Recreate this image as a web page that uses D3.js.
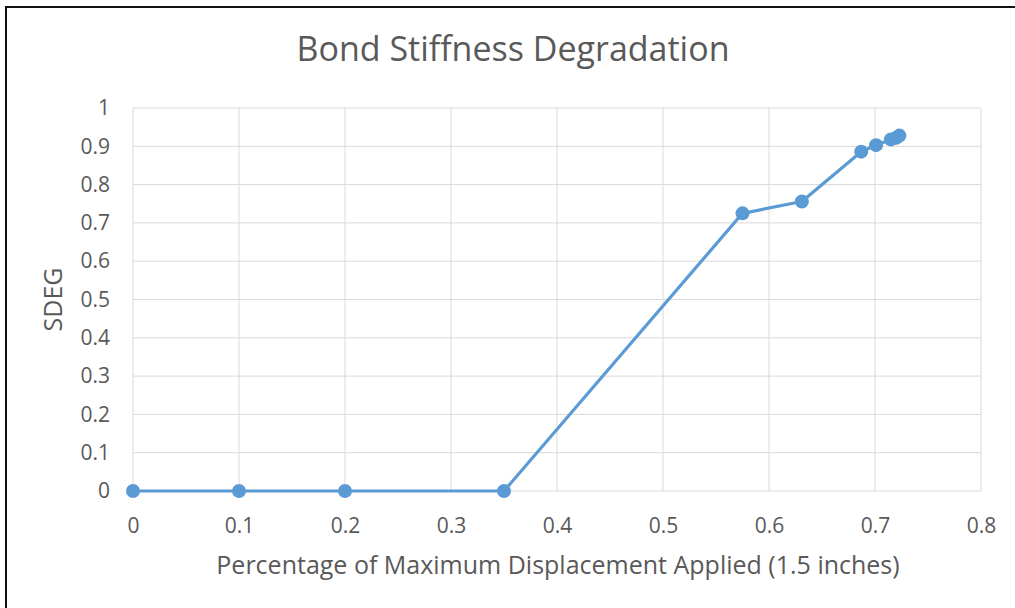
<!DOCTYPE html>
<html>
<head>
<meta charset="utf-8">
<script src="https://cdn.jsdelivr.net/npm/d3@7/dist/d3.min.js"></script>
<style>
  body { margin: 0; background: #fff; }
  svg text { font-family: "Open Sans", "DejaVu Sans", sans-serif; fill: #595959; }
</style>
</head>
<body>
<script>
const width = 1015
const height = 608

// values
const displacement = [0, 0.1, 0.2, 0.35, 0.575, 0.631, 0.687, 0.701, 0.715, 0.720, 0.723]
const sdeg = [0, 0, 0, 0, 0.725, 0.756, 0.886, 0.903, 0.918, 0.922, 0.928]
const xTicks = [0, 0.1, 0.2, 0.3, 0.4, 0.5, 0.6, 0.7, 0.8]
const yTicks = [0, 0.1, 0.2, 0.3, 0.4, 0.5, 0.6, 0.7, 0.8, 0.9, 1]

const points = displacement.map((d, i) => ({x: d, y: sdeg[i]}))

const margin = {left: 133, right: 34, top: 108, bottom: 117}

const x = d3.scaleLinear().domain([0, 0.8]).range([margin.left, width - margin.right])
const y = d3.scaleLinear().domain([0, 1]).range([height - margin.bottom, margin.top])

const svg = d3.select('body').append('svg')
    .attr('width', width)
    .attr('height', height)

// frame (only left and top edges visible in the reference)
svg.append('rect')
    .attr('x', 6).attr('y', 7)
    .attr('width', width + 20).attr('height', height + 20)
    .attr('fill', 'none')
    .attr('stroke', '#111')
    .attr('stroke-width', 2)

// gridlines
svg.append('g')
    .selectAll('line.h')
    .data(yTicks)
    .enter().append('line')
    .attr('x1', x(0)).attr('x2', x(0.8))
    .attr('y1', d => y(d)).attr('y2', d => y(d))
    .attr('stroke', '#d9d9d9')
    .attr('stroke-width', 1)

svg.append('g')
    .selectAll('line.v')
    .data(xTicks)
    .enter().append('line')
    .attr('x1', d => x(d)).attr('x2', d => x(d))
    .attr('y1', y(0)).attr('y2', y(1))
    .attr('stroke', '#d9d9d9')
    .attr('stroke-width', 1)

// axes (labels only)
const xAxis = svg.append('g')
    .attr('transform', `translate(0,${y(0)})`)
    .call(d3.axisBottom(x).tickValues(xTicks).tickSize(0).tickPadding(27).tickFormat(d3.format('')))
xAxis.select('.domain').remove()
xAxis.selectAll('text').style('font-size', '21px').attr('fill', '#595959')

const yAxis = svg.append('g')
    .attr('transform', `translate(${x(0)},0)`)
    .call(d3.axisLeft(y).tickValues(yTicks).tickSize(0).tickPadding(23).tickFormat(d3.format('')))
yAxis.select('.domain').remove()
yAxis.selectAll('text').style('font-size', '21px').attr('fill', '#595959')

// series
const line = d3.line().x(d => x(d.x)).y(d => y(d.y))

svg.append('path')
    .datum(points)
    .attr('d', line)
    .attr('fill', 'none')
    .attr('stroke', '#5b9bd5')
    .attr('stroke-width', 3.2)
    .attr('stroke-linejoin', 'round')

svg.append('g')
    .selectAll('circle')
    .data(points)
    .enter().append('circle')
    .attr('cx', d => x(d.x))
    .attr('cy', d => y(d.y))
    .attr('r', 7)
    .attr('fill', '#5b9bd5')

// titles
svg.append('text')
    .attr('x', 513).attr('y', 61)
    .attr('text-anchor', 'middle')
    .style('font-size', '34px')
    .text('Bond Stiffness Degradation')

svg.append('text')
    .attr('x', 558).attr('y', 574)
    .attr('text-anchor', 'middle')
    .style('font-size', '25px')
    .text('Percentage of Maximum Displacement Applied (1.5 inches)')

svg.append('text')
    .attr('transform', `translate(62,${(y(0) + y(1)) / 2}) rotate(-90)`)
    .attr('text-anchor', 'middle')
    .style('font-size', '25px')
    .text('SDEG')
</script>
</body>
</html>
